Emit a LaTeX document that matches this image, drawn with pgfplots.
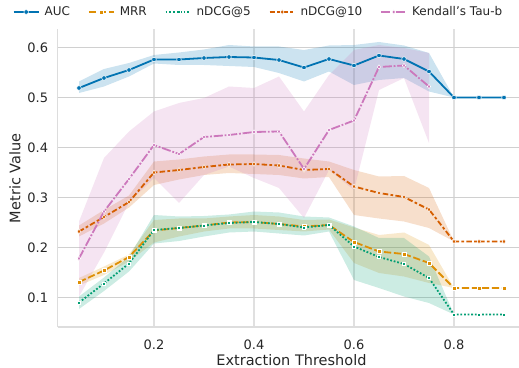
\documentclass[border=0pt]{standalone}
\usepackage{pgfplots}
\pgfplotsset{compat=1.18}
\usepackage{pgfplotstable}
\usepackage{fontspec}
\setmainfont{DejaVu Sans}
\definecolor{cAUC}{HTML}{0173B2}
\definecolor{cMRR}{HTML}{DE8F05}
\definecolor{cN5}{HTML}{029E73}
\definecolor{cN10}{HTML}{D55E00}
\definecolor{cK}{HTML}{CC78BC}
\definecolor{txt}{HTML}{262626}
\definecolor{grd}{HTML}{DDDDDD}
\definecolor{grdx}{HTML}{E0E0E0}
\definecolor{grdy}{HTML}{D0D0D0}

\pgfplotstableread{
x auc mrr n5 n10
0.05 0.519 0.131 0.090 0.232
0.10 0.539 0.154 0.128 0.261
0.15 0.555 0.181 0.168 0.291
0.20 0.576 0.234 0.235 0.350
0.25 0.576 0.239 0.239 0.355
0.30 0.579 0.244 0.244 0.361
0.35 0.581 0.250 0.249 0.366
0.40 0.580 0.251 0.251 0.367
0.45 0.575 0.247 0.247 0.364
0.50 0.560 0.242 0.240 0.355
0.55 0.577 0.245 0.245 0.357
0.60 0.564 0.211 0.202 0.322
0.65 0.584 0.192 0.181 0.309
0.70 0.577 0.187 0.167 0.301
0.75 0.552 0.169 0.139 0.276
0.80 0.500 0.119 0.066 0.212
0.85 0.500 0.119 0.066 0.212
0.90 0.500 0.119 0.066 0.212
}\maintab

\pgfplotstableread{
x k
0.05 0.178
0.10 0.272
0.15 0.337
0.20 0.405
0.25 0.387
0.30 0.421
0.35 0.425
0.40 0.431
0.45 0.432
0.50 0.357
0.55 0.435
0.60 0.454
0.65 0.561
0.70 0.564
0.75 0.522
}\kendtab

\pgfplotsset{
  legend image code/.code={\draw[mark repeat=2,mark phase=2,#1] plot coordinates {(0pt,0pt) (12.5pt,0pt) (25pt,0pt)};},
}

\begin{document}
\begin{tikzpicture}
\useasboundingbox (0,0) rectangle (519pt,367pt);
\begin{axis}[
  at={(57.75pt,40pt)}, anchor=south west,
  scale only axis, width=461.25pt, height=297.5pt,
  xmin=0.0075, xmax=0.93, ymin=0.041, ymax=0.636,
  xtick={0.2,0.4,0.6,0.8}, ytick={0.1,0.2,0.3,0.4,0.5,0.6},
  xticklabels={0.2,0.4,0.6,0.8}, yticklabels={0.1,0.2,0.3,0.4,0.5,0.6},
  axis x line*=bottom, axis y line*=left,
  axis line style={grd, line width=1.2pt},
  major tick length=0pt,
  xtick style={draw=none}, ytick style={draw=none},
  xmajorgrids, ymajorgrids,
  x grid style={grdx, line width=1.2pt},
  y grid style={grdy, line width=1.2pt},
  tick label style={font=\fontsize{13}{15}\selectfont, text=txt},
  yticklabel style={inner sep=0pt, anchor=east, xshift=-9.4pt},
  xticklabel style={inner sep=0pt, anchor=north, yshift=-12.3pt},
  xlabel={Extraction Threshold}, ylabel={Metric Value},
  label style={font=\fontsize{14.5}{17}\selectfont, text=txt, inner sep=0pt},
  xlabel style={at={(axis description cs:0.5066,0)}, anchor=base, yshift=-38pt},
  ylabel style={at={(axis description cs:-0.0927,0.5)}, anchor=center},
  legend columns=5,
  legend cell align=left,
  legend style={draw=none, fill=none, at={(axis description cs:0.4352,1.0588)}, anchor=center,
    font=\fontsize{12}{14}\selectfont, text=txt,
    /tikz/every odd column/.append style={column sep=3pt},
    /tikz/every even column/.append style={column sep=16pt}},
]
% bands (upper bound forward, lower bound backward)
\addplot[fill=cAUC, fill opacity=0.2, draw=none, forget plot] coordinates {
(0.05,0.532)(0.10,0.557)(0.15,0.569)(0.20,0.585)(0.25,0.590)(0.30,0.596)(0.35,0.605)(0.40,0.602)(0.45,0.602)(0.50,0.595)(0.55,0.604)(0.60,0.605)(0.65,0.611)(0.70,0.604)(0.75,0.589)(0.80,0.500)
(0.75,0.512)(0.70,0.539)(0.65,0.535)(0.60,0.525)(0.55,0.552)(0.50,0.532)(0.45,0.549)(0.40,0.561)(0.35,0.563)(0.30,0.565)(0.25,0.565)(0.20,0.568)(0.15,0.542)(0.10,0.522)(0.05,0.509)} -- cycle;
\addplot[fill=cMRR, fill opacity=0.2, draw=none, forget plot] coordinates {
(0.05,0.139)(0.10,0.162)(0.15,0.186)(0.20,0.255)(0.25,0.258)(0.30,0.258)(0.35,0.262)(0.40,0.265)(0.45,0.262)(0.50,0.255)(0.55,0.256)(0.60,0.240)(0.65,0.225)(0.70,0.230)(0.75,0.205)(0.80,0.119)
(0.75,0.129)(0.70,0.142)(0.65,0.149)(0.60,0.169)(0.55,0.236)(0.50,0.232)(0.45,0.235)(0.40,0.238)(0.35,0.238)(0.30,0.232)(0.25,0.222)(0.20,0.210)(0.15,0.172)(0.10,0.145)(0.05,0.124)} -- cycle;
\addplot[fill=cN5, fill opacity=0.2, draw=none, forget plot] coordinates {
(0.05,0.102)(0.10,0.140)(0.15,0.182)(0.20,0.265)(0.25,0.262)(0.30,0.263)(0.35,0.266)(0.40,0.272)(0.45,0.270)(0.50,0.262)(0.55,0.260)(0.60,0.242)(0.65,0.219)(0.70,0.219)(0.75,0.182)(0.80,0.066)
(0.75,0.089)(0.70,0.102)(0.65,0.119)(0.60,0.135)(0.55,0.232)(0.50,0.224)(0.45,0.228)(0.40,0.232)(0.35,0.230)(0.30,0.222)(0.25,0.213)(0.20,0.208)(0.15,0.152)(0.10,0.113)(0.05,0.077)} -- cycle;
\addplot[fill=cN10, fill opacity=0.2, draw=none, forget plot] coordinates {
(0.05,0.244)(0.10,0.275)(0.15,0.304)(0.20,0.372)(0.25,0.376)(0.30,0.382)(0.35,0.386)(0.40,0.386)(0.45,0.385)(0.50,0.378)(0.55,0.372)(0.60,0.355)(0.65,0.342)(0.70,0.343)(0.75,0.319)(0.80,0.212)
(0.75,0.239)(0.70,0.252)(0.65,0.258)(0.60,0.265)(0.55,0.341)(0.50,0.338)(0.45,0.345)(0.40,0.347)(0.35,0.349)(0.30,0.345)(0.25,0.336)(0.20,0.325)(0.15,0.280)(0.10,0.248)(0.05,0.222)} -- cycle;
\addplot[fill=cK, fill opacity=0.2, draw=none, forget plot] coordinates {
(0.05,0.252)(0.10,0.379)(0.15,0.432)(0.20,0.472)(0.25,0.489)(0.30,0.499)(0.35,0.522)(0.40,0.519)(0.45,0.542)(0.50,0.472)(0.55,0.545)(0.60,0.595)(0.65,0.605)(0.70,0.599)(0.75,0.589)
(0.75,0.409)(0.70,0.539)(0.65,0.515)(0.60,0.315)(0.55,0.355)(0.50,0.259)(0.45,0.319)(0.40,0.339)(0.35,0.362)(0.30,0.345)(0.25,0.289)(0.20,0.339)(0.15,0.290)(0.10,0.190)(0.05,0.102)} -- cycle;
% lines
\addplot[cAUC, line width=1.8pt, mark=*, mark size=2.3pt, mark options={solid, fill=cAUC, draw=white, line width=0.5pt}] table[x=x,y=auc]{\maintab};
\addlegendentry{AUC}
\addplot[cMRR, line width=1.8pt, dash pattern=on 7.3pt off 2.7pt, mark=square*, mark size=2pt, mark options={solid, fill=cMRR, draw=white, line width=0.5pt}] table[x=x,y=mrr]{\maintab};
\addlegendentry{MRR}
\addplot[cN5, line width=1.8pt, dash pattern=on 1.8pt off 1.8pt, mark=square*, mark size=1.7pt, mark options={solid, fill=cN5, draw=white, line width=0.5pt}] table[x=x,y=n5]{\maintab};
\addlegendentry{nDCG@5}
\addplot[cN10, line width=1.8pt, dash pattern=on 5.5pt off 2.3pt on 2.7pt off 2.3pt, mark=diamond*, mark size=2.4pt, mark options={solid, fill=cN10, draw=white, line width=0.5pt}] table[x=x,y=n10]{\maintab};
\addlegendentry{nDCG@10}
\addplot[cK, line width=1.8pt, dash pattern=on 9.1pt off 1.8pt on 1.8pt off 1.8pt, mark=diamond*, mark size=2.2pt, mark options={solid, fill=cK, draw=white, line width=0.5pt}] table[x=x,y=k]{\kendtab};
\addlegendentry{Kendall's Tau-b}
\end{axis}
\end{tikzpicture}
\end{document}
